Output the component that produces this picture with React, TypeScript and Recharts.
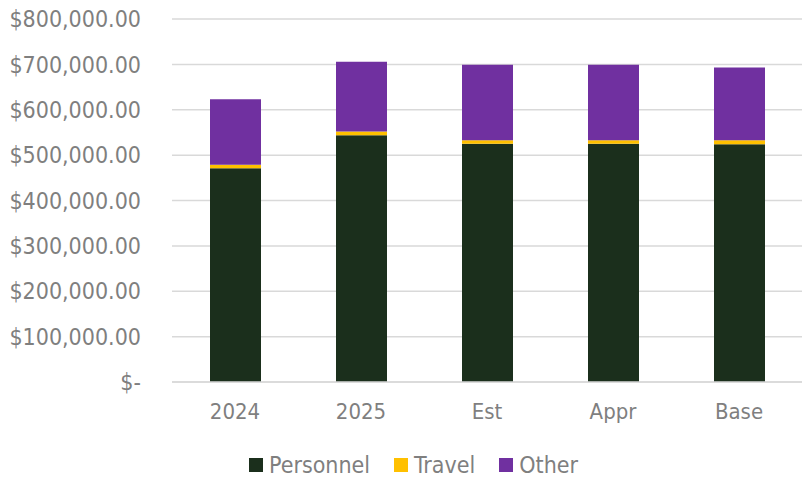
import React from 'react';
import { BarChart, Bar, XAxis, YAxis, CartesianGrid, Legend } from 'recharts';

const categories = ['2024', '2025', 'Est', 'Appr', 'Base'];
const personnel = [471000, 544000, 525000, 525000, 524000];
const travel = [8000, 8000, 8000, 8000, 9000];
const other = [144000, 154000, 166000, 166000, 160000];
const yTicks = [0, 100000, 200000, 300000, 400000, 500000, 600000, 700000, 800000];

const series = [
  { key: 'personnel', name: 'Personnel', color: '#1b2f1c' },
  { key: 'travel', name: 'Travel', color: '#ffc000' },
  { key: 'other', name: 'Other', color: '#7030a0' },
];

const data = categories.map((name, i) => ({
  name,
  personnel: personnel[i],
  travel: travel[i],
  other: other[i],
}));

const FONT = '"DejaVu Sans Condensed", "DejaVu Sans", Verdana, sans-serif';
const TEXT = '#7f7f7f';

const formatMoney = (v: number) =>
  v === 0 ? '$-' : '$' + v.toLocaleString('en-US', { minimumFractionDigits: 2, maximumFractionDigits: 2 });

const CustomLegend = () => (
  <div
    style={{
      display: 'flex',
      justifyContent: 'center',
      gap: 24,
      paddingLeft: 25,
      position: 'relative',
      top: 10,
      fontFamily: FONT,
      fontSize: 23,
      color: TEXT,
    }}
  >
    {series.map((s) => (
      <div key={s.key} style={{ display: 'flex', alignItems: 'center' }}>
        <span style={{ width: 14, height: 14, background: s.color, display: 'inline-block', marginRight: 6 }} />
        <span>{s.name}</span>
      </div>
    ))}
  </div>
);

export default function App() {
  return (
    <div style={{ position: 'absolute', left: 0, top: 0, background: '#fff' }}>
      <BarChart width={802} height={478} data={data} margin={{ top: 19, right: 0, left: 0, bottom: 0 }}>
        <CartesianGrid vertical={false} stroke="#d9d9d9" strokeWidth={1.5} />
        <XAxis
          dataKey="name"
          axisLine={{ stroke: '#d9d9d9', strokeWidth: 1.5 }}
          tickLine={false}
          tickSize={0}
          tickMargin={21}
          height={60}
          tick={{ fill: TEXT, stroke: 'none', fontSize: 22, fontFamily: FONT }}
        />
        <YAxis
          width={172}
          domain={[0, 800000]}
          ticks={yTicks}
          axisLine={false}
          tickLine={false}
          tickSize={0}
          tickMargin={31}
          tickFormatter={formatMoney}
          tick={{ fill: TEXT, stroke: 'none', fontSize: 23, fontFamily: FONT }}
        />
        <Legend verticalAlign="bottom" height={36} content={<CustomLegend />} />
        {series.map((s) => (
          <Bar key={s.key} dataKey={s.key} name={s.name} stackId="a" fill={s.color} barSize={51} isAnimationActive={false} />
        ))}
      </BarChart>
    </div>
  );
}
